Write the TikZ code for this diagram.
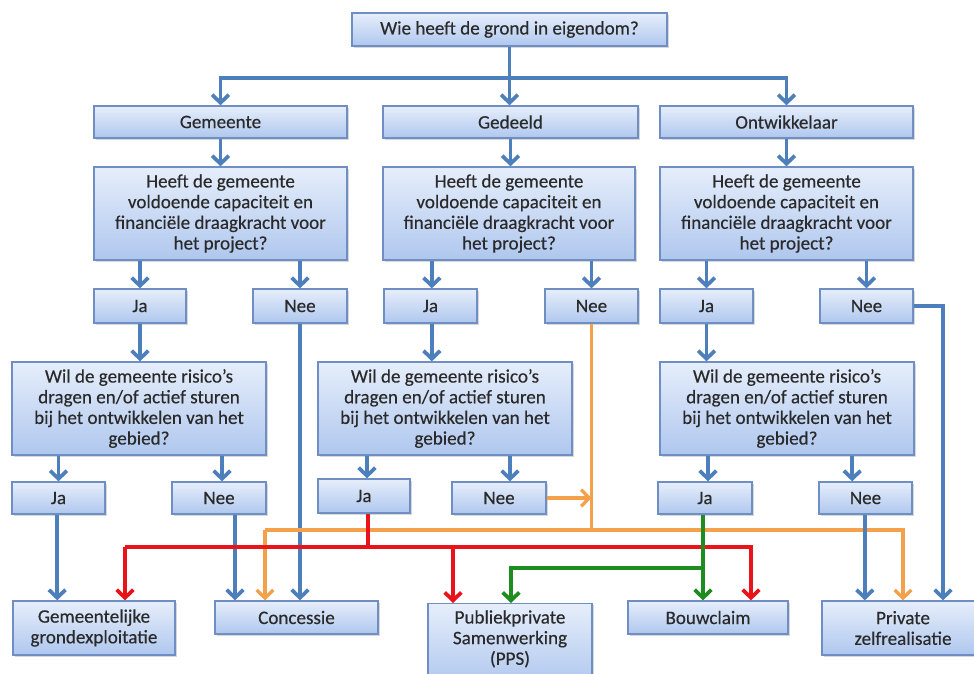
\documentclass[tikz,border=0pt]{standalone}
\usepackage{fontspec}
\setmainfont{Carlito}
\newfontfamily\boxfont[FakeBold=0.35]{Carlito}
\usetikzlibrary{arrows.meta,shadows}
\definecolor{boxtop}{HTML}{E6EEFB}
\definecolor{boxbot}{HTML}{AFC7EE}
\definecolor{boxline}{HTML}{6F8FC4}
\definecolor{conblue}{HTML}{4C7FBC}
\definecolor{conred}{HTML}{E8141A}
\definecolor{conorange}{HTML}{F5A04A}
\definecolor{congreen}{HTML}{1E8C1E}
\definecolor{txt}{HTML}{2A2A2A}
\tikzset{
  box/.style={draw=boxline, line width=1pt, top color=boxtop, bottom color=boxbot,
    drop shadow={shadow xshift=1.2pt, shadow yshift=-1.2pt, opacity=0.3, fill=gray},
    align=center, inner sep=0pt, text=txt, font=\boxfont\fontsize{14.3}{15.5}\selectfont},
  tipstyle/.style={-{Straight Barb[length=6pt,width=12.5pt]}},
  blueline/.style={draw=conblue, line width=2.8pt},
  redline/.style={draw=conred, line width=2.8pt},
  orangeline/.style={draw=conorange, line width=2.5pt},
  greenline/.style={draw=congreen, line width=2.8pt},
}
\newcommand\bx[6]{\node[box, minimum width={(#4-#2)*0.75pt}, minimum height={(#5-#3)*0.75pt}] (#1) at ({(#2+#4)/2},{(#3+#5)/2}) {#6};}
\begin{document}
\begin{tikzpicture}[x=0.75pt,y=-0.75pt, line join=miter]
\clip (0,0) rectangle (974,674);
\fill[white] (0,0) rectangle (974,674);
% boxes
\bx{top}{352}{13}{667}{46}{Wie heeft de grond in eigendom?}
\bx{gem}{94}{106}{347}{138}{Gemeente}
\bx{ged}{383}{106}{638}{138}{Gedeeld}
\bx{ont}{660}{106}{913}{138}{Ontwikkelaar}
\bx{qa}{94}{167}{347}{260}{Heeft de gemeente\\voldoende capaciteit en\\financiële draagkracht voor\\het project?}
\bx{qb}{383}{167}{635}{260}{Heeft de gemeente\\voldoende capaciteit en\\financiële draagkracht voor\\het project?}
\bx{qc}{660}{167}{913}{260}{Heeft de gemeente\\voldoende capaciteit en\\financiële draagkracht voor\\het project?}
\bx{jaa}{94}{289}{186}{323}{Ja}
\bx{neea}{253}{289}{347}{323}{Nee}
\bx{jab}{384}{289}{477}{323}{Ja}
\bx{neeb}{545}{289}{638}{323}{Nee}
\bx{jac}{660}{289}{753}{323}{Ja}
\bx{neec}{820}{289}{913}{323}{Nee}
\bx{ra}{12}{362}{266}{455}{Wil de gemeente risico’s\\dragen en/of actief sturen\\bij het ontwikkelen van het\\gebied?}
\bx{rb}{318}{362}{572}{455}{Wil de gemeente risico’s\\dragen en/of actief sturen\\bij het ontwikkelen van het\\gebied?}
\bx{rc}{660}{362}{914}{455}{Wil de gemeente risico’s\\dragen en/of actief sturen\\bij het ontwikkelen van het\\gebied?}
\bx{jra}{12}{482}{105}{514}{Ja}
\bx{nra}{172}{482}{266}{514}{Nee}
\bx{jrb}{318}{479}{410}{513}{Ja}
\bx{nrb}{452}{482}{546}{514}{Nee}
\bx{jrc}{658}{482}{752}{514}{Ja}
\bx{nrc}{819}{482}{912}{514}{Nee}
\bx{ge}{13}{601}{175}{655}{Gemeentelijke\\grondexploitatie}
\bx{conc}{215}{601}{378}{634}{Concessie}
\node[box, minimum width={164*0.75pt}, minimum height={82*0.75pt}, anchor=north] (pps) at (510,603) {};
\node[align=center, text=txt, font=\boxfont\fontsize{14.3}{15.5}\selectfont, anchor=north, inner sep=0pt] (ppst) at (510,610) {Publiekprivate\\Samenwerking\\(PPS)};
\bx{bouw}{628}{601}{788}{634}{Bouwclaim}
\bx{priv}{822}{601}{984}{655}{Private\\zelfrealisatie}
% coordinates
\coordinate (split) at (509.5,78);
\coordinate (ry) at (0,547);
\coordinate (oy) at (0,530);
\coordinate (gy) at (0,568);
\coordinate (rl) at (125,547);
\coordinate (rp) at (453,547);
\coordinate (rr) at (751,547);
\coordinate (ol) at (265,530);
\coordinate (or) at (903,530);
\coordinate (gl) at (511,568);
\coordinate (bx) at (943,0);
% top level
\draw[blueline] (top.south) -- (split);
\draw[blueline,tipstyle] (split) -| (gem.north);
\draw[blueline,tipstyle] (split) -| (ont.north);
\draw[blueline,tipstyle] (split) -- (split |- ged.north);
\draw[blueline,tipstyle] (gem.south) -- (qa.north);
\draw[blueline,tipstyle] (ged.south) -- (ged.south |- qb.north);
\draw[blueline,tipstyle] (ont.south) -- (qc.north);
% q -> ja/nee
\draw[blueline,tipstyle] (qa.south -| jaa.north) -- (jaa.north);
\draw[blueline,tipstyle] (qa.south -| neea.north) -- (neea.north);
\draw[blueline,tipstyle] ([xshift=1pt]qb.south -| jab.north) -- ([xshift=1pt]jab.north);
\draw[blueline,tipstyle] (qb.south -| neeb.north) -- (neeb.north);
\draw[blueline,tipstyle] (qc.south -| jac.north) -- (jac.north);
\draw[blueline,tipstyle] (qc.south -| neec.north) -- (neec.north);
% ja -> r
\draw[blueline,tipstyle] (jaa.south) -- (jaa.south |- ra.north);
\draw[blueline,tipstyle] ([xshift=1pt]jab.south) -- ([xshift=1pt]jab.south |- rb.north);
\draw[blueline,tipstyle] (jac.south) -- (jac.south |- rc.north);
% r -> ja/nee
\draw[blueline,tipstyle] (ra.south -| jra.north) -- (jra.north);
\draw[blueline,tipstyle] ([xshift=2.25pt]ra.south -| nra.north) -- ([xshift=2.25pt]nra.north);
\draw[blueline,tipstyle] ([xshift=2.25pt]rb.south -| jrb.north) -- ([xshift=2.25pt]jrb.north);
\draw[blueline,tipstyle] ([xshift=8.25pt]rb.south -| nrb.north) -- ([xshift=8.25pt]nrb.north);
\draw[blueline,tipstyle] ([xshift=2.25pt]rc.south -| jrc.north) -- ([xshift=2.25pt]jrc.north);
\draw[blueline,tipstyle] ([xshift=-10pt]rc.south -| nrc.north) -- ([xshift=-10pt]nrc.north);
% blue to outcomes
\draw[blueline,tipstyle] ([xshift=-1pt]jra.south) -- ([xshift=-1pt]jra.south |- ge.north);
\draw[blueline,tipstyle] ([xshift=12pt]nra.south) -- ([xshift=12pt]nra.south |- conc.north);
\draw[blueline,tipstyle] (neea.south) -- (neea.south |- conc.north);
% orange
\draw[orangeline,tipstyle] (ol) -- (or) -- (or |- priv.north);
\draw[orangeline,tipstyle] (ol) -- (ol |- conc.north);
\draw[orangeline] (neeb.south) -- (neeb.south |- oy);
\draw[orangeline,tipstyle] (nrb.east) -- (nrb.east -| neeb.south);
% red
\draw[redline] ([xshift=3pt]jrb.south) -- ([xshift=3pt]jrb.south |- ry);
\draw[redline,tipstyle] (rl) -- (rr) -- (rr |- bouw.north);
\draw[redline,tipstyle] (rp) -- (rp |- pps.north);
\draw[redline,tipstyle] (rl) -- (rl |- ge.north);
% green
\draw[greenline,tipstyle] ([xshift=-1.5pt]jrc.south) -- ([xshift=-1.5pt]jrc.south |- bouw.north);
\draw[greenline,tipstyle] ([xshift=-1.5pt]jrc.south |- gy) -- (gl) -- (gl |- pps.north);
% blue right
\draw[blueline,tipstyle] ([xshift=-0.5pt]nrc.south) -- ([xshift=-0.5pt]nrc.south |- priv.north);
\draw[blueline,tipstyle] (neec.east) -- (neec.east -| bx) -- (bx |- priv.north);
\end{tikzpicture}
\end{document}
